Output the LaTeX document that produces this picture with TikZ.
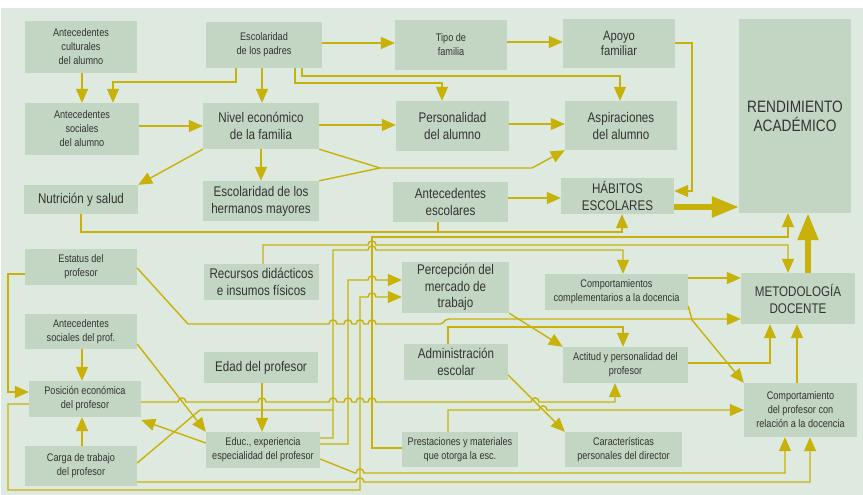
\documentclass[tikz,border=0pt]{standalone}
\usepackage{fontspec}
\setmainfont{Liberation Sans}[FakeStretch=0.83]
\usetikzlibrary{arrows.meta}
\definecolor{bgc}{HTML}{DEE9DF}
\definecolor{boxc}{HTML}{C2D6C3}
\definecolor{lc}{HTML}{C8B20A}
\definecolor{txtc}{HTML}{333333}
\newcommand{\jh}[2]{-- ({#1-4},#2) .. controls ({#1-4},{#2-5.5}) and ({#1+4},{#2-5.5}) .. ({#1+4},#2)}
\begin{document}
\begin{tikzpicture}[x=1pt,y=-1pt,
  box/.style={fill=boxc, text=txtc, align=center, inner sep=0pt},
  sm/.style={box, font=\fontsize{11}{14}\selectfont},
  bg/.style={box, font=\fontsize{14}{17}\selectfont},
  con/.style={draw=lc, line width=1.4pt},
  arr/.style={con, -{Triangle[length=14pt,width=12pt]}},
  fat/.style={draw=lc, line width=5.5pt, -{Triangle[length=27pt,width=20pt]}}]
\useasboundingbox (0,0) rectangle (863,495);
\fill[white] (0,0) rectangle (863,495);
\fill[bgc] (1,8) rectangle (863,495);
% nodes
\node[sm, minimum width=112pt, minimum height=52pt] (cult) at (81,47) {Antecedentes\\culturales\\del alumno};
\node[sm, minimum width=116pt, minimum height=46pt] (padres) at (264,45) {Escolaridad\\de los padres};
\node[sm, minimum width=114pt, minimum height=52pt] (socal) at (82,129) {Antecedentes\\sociales\\del alumno};
\node[bg, minimum width=116pt, minimum height=46pt] (nivel) at (261,126) {Nivel económico\\de la familia};
\node[sm, minimum width=112pt, minimum height=50pt] (tipo) at (451,45) {Tipo de\\familia};
\node[box, font=\fontsize{13.5}{15.5}\selectfont, minimum width=112pt, minimum height=49pt] (apoyo) at (619,43.5) {Apoyo\\familiar};
\node[bg, minimum width=113pt, minimum height=50pt] (person) at (452.5,126) {Personalidad\\del alumno};
\node[bg, minimum width=112pt, minimum height=49pt] (aspir) at (621,125.5) {Aspiraciones\\del alumno};
\node[box, font=\fontsize{16.5}{19}\selectfont, minimum width=112pt, minimum height=194pt] (rend) at (795,116) {RENDIMIENTO\\ACADÉMICO};
\node[bg, minimum width=113pt, minimum height=36pt] (habit) at (617.5,196) {HÁBITOS\\ESCOLARES};
\node[bg, minimum width=114pt, minimum height=29pt] (nutri) at (81,199.5) {Nutrición y salud};
\node[bg, minimum width=116pt, minimum height=40pt] (herm) at (261,201) {Escolaridad de los\\hermanos mayores};
\node[bg, minimum width=115pt, minimum height=40pt] (antesc) at (450.5,202) {Antecedentes\\escolares};
\node[sm, minimum width=112pt, minimum height=36pt] (estat) at (81,267) {Estatus del\\profesor};
\node[bg, minimum width=115pt, minimum height=36pt] (recur) at (261.5,282) {Recursos didácticos\\e insumos físicos};
\node[sm, minimum width=112pt, minimum height=35pt] (socprof) at (81,331.5) {Antecedentes\\sociales del prof.};
\node[sm, minimum width=112pt, minimum height=36pt] (posic) at (85,399) {Posición económica\\del profesor};
\node[sm, minimum width=112pt, minimum height=40pt] (carga) at (81,466) {Carga de trabajo\\del profesor};
\node[bg, minimum width=114pt, minimum height=31pt] (edad) at (261,367.5) {Edad del profesor};
\node[sm, minimum width=114pt, minimum height=36pt] (educ) at (263,450) {Educ., experiencia\\especialidad del profesor};
\node[box, font=\fontsize{14}{16.5}\selectfont, minimum width=107pt, minimum height=51pt] (percep) at (455.5,287.5) {Percepción del\\mercado de\\trabajo};
\node[sm, minimum width=143pt, minimum height=36pt] (compcomp) at (616.5,292) {Comportamientos\\complementarios a la docencia};
\node[bg, minimum width=114pt, minimum height=51pt] (metod) at (798,298.5) {METODOLOGÍA\\DOCENTE};
\node[bg, minimum width=104pt, minimum height=36pt] (admin) at (456,362) {Administración\\escolar};
\node[sm, minimum width=125pt, minimum height=36pt] (actit) at (625.5,365) {Actitud y personalidad del\\profesor};
\node[sm, minimum width=113pt, minimum height=54pt] (comprof) at (800.5,410) {Comportamiento\\del profesor con\\relación a la docencia};
\node[sm, minimum width=116pt, minimum height=35pt] (prest) at (460,449.5) {Prestaciones y materiales\\que otorga la esc.};
\node[sm, minimum width=117pt, minimum height=35pt] (caract) at (623.5,449.5) {Características\\personales del director};
% top connectors
\draw[arr] (cult.south -| 82,0) -- (socal.north -| 82,0);
\draw[arr] (padres.south -| 236,0) |- (113,82) -- (socal.north -| 113,0);
\draw[arr] (padres.south -| 262,0) -- (nivel.north -| 262,0);
\draw[arr] (padres.east |- 0,43) -- (tipo.west |- 0,43);
\draw[arr] (tipo.east |- 0,42) -- (apoyo.west |- 0,42);
\draw[arr] (padres.south -| 302,0) |- (620,76) -- (aspir.north -| 620,0);
\draw[arr] (padres.south -| 295,0) |- (442,83) -- (person.north -| 442,0);
\draw[arr] (socal.east |- 0,126) -- (nivel.west |- 0,126);
\draw[arr] (nivel.east |- 0,125) -- (person.west |- 0,125);
\draw[arr] (person.east |- 0,124) -- (aspir.west |- 0,124);
\draw[arr] (nivel.south west) -- (nutri.north east);
\draw[arr] (nivel.south) -- (herm.north);
\coordinate (m1) at (380,168);
\draw[con] (nivel.south east) -- (m1);
\draw[con] (herm.north east) -- (m1);
\draw[arr] (m1) -- (532,168) -- (aspir.south west);
\draw[arr] (apoyo.east |- 0,43) -| (692,191) -- (habit.east |- 0,191);
\draw[fat] (habit.east |- 0,207) -- (rend.west |- 0,207);
\draw[arr] (antesc.east |- 0,198) -- (habit.west |- 0,198);
\draw[arr] (nutri.south -| 81,0) |- (622,232) -- (habit.south -| 622,0);
\draw[con] (antesc.south -| 438,0) -- (438,232);
% middle bundle
\draw[arr] (recur.north -| 263,0) -- (263,245) \jh{372}{245} -- (788,245) -- (metod.north -| 788,0);
\draw[arr] (educ.east |- 0,438) -- (333,438) -- (333,250) \jh{372}{250} -- (623,250) -- (compcomp.north -| 623,0);
\draw[con] (carga.east |- 0,463) -- (200,410) -- (333,410);
\draw[arr] (prest.west |- 0,448) -- (372,448) -- (372,237) -- (788,237) -- (rend.south -| 788,0);
\draw[arr] (educ.east |- 0,444) -- (348,444) -- (348,280) \jh{372}{280} -- (percep.west |- 0,280);
\draw[arr] (posic.west |- 0,404) -- (8,404) -- (8,490) -- (360,490) -- (360,297) \jh{372}{297} -- (percep.west |- 0,297);
\draw[arr] (estat.west |- 0,274) -- (8,274) -- (8,392) -- (posic.west |- 0,392);
\draw[arr] (estat.east |- 0,268) -- (188,324) \jh{333}{324} \jh{348}{324} \jh{360}{324} \jh{372}{324} -- (440,324) .. controls (444,324) and (444,319) .. (449,319) -- (metod.west |- 0,319);
\draw[arr] (admin.north -| 448,0) -- (448,327) -- (623,327) -- (actit.north -| 623,0);
\draw[arr] (percep.south east) -- (actit.north west);
\draw[arr] (compcomp.east |- 0,278) -- (metod.west |- 0,278);
\draw[arr] (compcomp.east |- 0,306) -- (692,320) -- (comprof.north west);
\draw[arr] (actit.east |- 0,363) -| (metod.south -| 770,0);
\draw[arr] (comprof.north -| 797,0) -- (metod.south -| 797,0);
\draw[arr] (posic.east |- 0,402) \jh{182}{402} \jh{262}{402} \jh{333}{402} \jh{348}{402} \jh{360}{402} \jh{372}{402} \jh{535}{402} -- (615,402) -- (actit.south -| 615,0);
\draw[arr] (prest.north -| 448,0) -- (448,410) \jh{543}{410} -- (comprof.west |- 0,410);
\draw[arr] (admin.east |- 0,375) -- (caract.north west);
% lower left
\draw[arr] (edad.south -| 262,0) -- (educ.north -| 262,0);
\draw[arr] (socprof.south -| 82,0) -- (posic.north -| 82,0);
\draw[arr] (carga.north -| 82,0) -- (posic.south -| 82,0);
\draw[arr] (educ.west |- 0,443) -- (posic.east |- 0,420);
\draw[arr] (socprof.east |- 0,344) -- (educ.north west);
\draw[arr] (educ.east |- 0,459) -- (355,473) \jh{360}{473} -- (785,473) -- (comprof.south -| 785,0);
\draw[arr] (carga.east |- 0,482) \jh{360}{482} -- (810,482) -- (comprof.south -| 810,0);
\draw[fat] (metod.north -| 808,0) -- (rend.south -| 808,0);
\end{tikzpicture}
\end{document}
